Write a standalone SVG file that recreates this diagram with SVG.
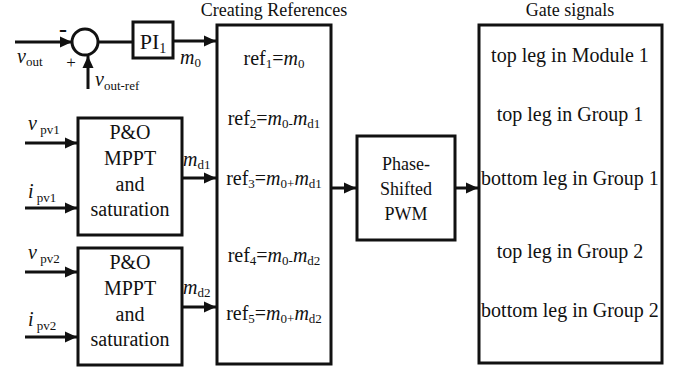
<svg xmlns="http://www.w3.org/2000/svg" width="678" height="373" viewBox="0 0 678 373">
<style>
text{font-family:"Liberation Serif","Times New Roman",serif;fill:#111}
.box{fill:#fff;stroke:#111;stroke-width:3}
.ln{fill:none;stroke:#111;stroke-width:3;marker-end:url(#ah)}
.pl{fill:none;stroke:#111;stroke-width:3}
.t20{font-size:20px}
.t18{font-size:18px}
.i{font-style:italic}
.s{font-size:13px;font-style:normal}
</style>
<defs>
<marker id="ah" markerWidth="12" markerHeight="12" refX="12" refY="6" orient="auto" markerUnits="userSpaceOnUse">
<path d="M0,0.5 L12,6 L0,11.5 z" fill="#111"/>
</marker>
</defs>
<g id="connectors">
<path class="ln" d="M15,42 H72"/>
<path class="ln" d="M88,89 V56"/>
<path class="pl" d="M98,42 H133"/>
<path class="ln" d="M173,41 H216"/>
<path class="ln" d="M25,143 H77"/>
<path class="ln" d="M25,208 H77"/>
<path class="ln" d="M25,272 H77"/>
<path class="ln" d="M25,337 H77"/>
<path class="ln" d="M182,178 H216"/>
<path class="ln" d="M182,307 H216"/>
<path class="ln" d="M331,188 H356"/>
<path class="ln" d="M455,188 H478"/>
</g>
<g id="sum">
<circle cx="85" cy="42" r="13" fill="#fff" stroke="#111" stroke-width="3"/>
<text x="63" y="37" font-size="24" font-weight="bold" text-anchor="middle">-</text>
<text x="71" y="68" font-size="17" text-anchor="middle">+</text>
</g>
<g id="labels-in">
<text x="17" y="63" class="t20"><tspan class="i">v</tspan><tspan class="s" dy="3">out</tspan></text>
<text x="95" y="86" class="t20"><tspan class="i">v</tspan><tspan class="s" dy="4">out-ref</tspan></text>
<text x="180" y="64" class="t20"><tspan class="i">m</tspan><tspan class="s" dy="3">0</tspan></text>
<text x="28" y="130" class="t20"><tspan class="i">v</tspan><tspan class="s" dy="4"> pv1</tspan></text>
<text x="28" y="198" class="t20"><tspan class="i">i</tspan><tspan class="s" dy="4"> pv1</tspan></text>
<text x="28" y="259" class="t20"><tspan class="i">v</tspan><tspan class="s" dy="4"> pv2</tspan></text>
<text x="28" y="326" class="t20"><tspan class="i">i</tspan><tspan class="s" dy="4"> pv2</tspan></text>
<text x="183" y="166" class="t20"><tspan class="i">m</tspan><tspan class="s" dy="3">d1</tspan></text>
<text x="183" y="294" class="t20"><tspan class="i">m</tspan><tspan class="s" dy="3">d2</tspan></text>
</g>
<g id="pi">
<rect class="box" x="133" y="22" width="40" height="36"/>
<text x="153" y="49" font-size="22" text-anchor="middle">PI<tspan font-size="14" dy="4">1</tspan></text>
</g>
<g id="mppt1">
<rect class="box" x="78" y="118" width="104" height="117"/>
<text x="130" y="139" class="t20" text-anchor="middle">P&amp;O</text>
<text x="130" y="165" class="t20" text-anchor="middle">MPPT</text>
<text x="130" y="191" class="t20" text-anchor="middle">and</text>
<text x="130" y="216" class="t20" text-anchor="middle">saturation</text>
</g>
<g id="mppt2">
<rect class="box" x="78" y="248" width="104" height="117"/>
<text x="130" y="269" class="t20" text-anchor="middle">P&amp;O</text>
<text x="130" y="295" class="t20" text-anchor="middle">MPPT</text>
<text x="130" y="321" class="t20" text-anchor="middle">and</text>
<text x="130" y="346" class="t20" text-anchor="middle">saturation</text>
</g>
<g id="refs">
<text x="274" y="16" class="t18" text-anchor="middle">Creating References</text>
<rect class="box" x="217" y="25" width="114" height="339"/>
<text x="274" y="65" class="t20" text-anchor="middle">ref<tspan class="s" dy="3">1</tspan><tspan dy="-3">=</tspan><tspan class="i">m</tspan><tspan class="s" dy="3">0</tspan></text>
<text x="274" y="125" class="t20" text-anchor="middle">ref<tspan class="s" dy="3">2</tspan><tspan dy="-3">=</tspan><tspan class="i">m</tspan><tspan class="s" dy="3">0-</tspan><tspan class="i" dy="-3">m</tspan><tspan class="s" dy="3">d1</tspan></text>
<text x="274" y="185" class="t20" text-anchor="middle">ref<tspan class="s" dy="3">3</tspan><tspan dy="-3">=</tspan><tspan class="i">m</tspan><tspan class="s" dy="3">0+</tspan><tspan class="i" dy="-3">m</tspan><tspan class="s" dy="3">d1</tspan></text>
<text x="274" y="262" class="t20" text-anchor="middle">ref<tspan class="s" dy="3">4</tspan><tspan dy="-3">=</tspan><tspan class="i">m</tspan><tspan class="s" dy="3">0-</tspan><tspan class="i" dy="-3">m</tspan><tspan class="s" dy="3">d2</tspan></text>
<text x="274" y="320" class="t20" text-anchor="middle">ref<tspan class="s" dy="3">5</tspan><tspan dy="-3">=</tspan><tspan class="i">m</tspan><tspan class="s" dy="3">0+</tspan><tspan class="i" dy="-3">m</tspan><tspan class="s" dy="3">d2</tspan></text>
</g>
<g id="pwm">
<rect class="box" x="357" y="136" width="98" height="104"/>
<text x="406" y="170" class="t18" text-anchor="middle">Phase-</text>
<text x="406" y="195" class="t18" text-anchor="middle">Shifted</text>
<text x="406" y="220" class="t18" text-anchor="middle">PWM</text>
</g>
<g id="gates">
<text x="570" y="16" class="t18" text-anchor="middle">Gate signals</text>
<rect class="box" x="479" y="25" width="183" height="338"/>
<text x="570" y="62" class="t20" text-anchor="middle">top leg in Module 1</text>
<text x="570" y="121" class="t20" text-anchor="middle">top leg in Group 1</text>
<text x="570" y="185" class="t20" text-anchor="middle">bottom leg in Group 1</text>
<text x="570" y="258" class="t20" text-anchor="middle">top leg in Group 2</text>
<text x="570" y="317" class="t20" text-anchor="middle">bottom leg in Group 2</text>
</g>
</svg>
